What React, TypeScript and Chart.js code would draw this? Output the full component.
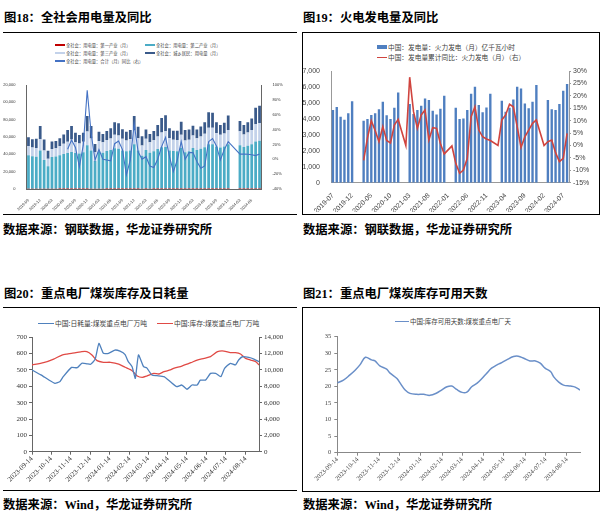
import React, { useEffect, useRef } from "react";
import { Chart, registerables } from "chart.js";
Chart.register(...registerables);

const SERIF_CJK = '"Liberation Serif", "Noto Sans CJK SC", serif';
const SANS_CJK = '"Noto Sans CJK SC", sans-serif';

// ---------------- 图18 全社会用电量及同比 ----------------
const months18 = [
  "2019-09","2019-10","2019-11","2019-12","2020-01","2020-02","2020-03","2020-04","2020-05","2020-06",
  "2020-07","2020-08","2020-09","2020-10","2020-11","2020-12","2021-01","2021-02","2021-03","2021-04",
  "2021-05","2021-06","2021-07","2021-08","2021-09","2021-10","2021-11","2021-12","2022-01","2022-02",
  "2022-03","2022-04","2022-05","2022-06","2022-07","2022-08","2022-09","2022-10","2022-11","2022-12",
  "2023-01","2023-02","2023-03","2023-04","2023-05","2023-06","2023-07","2023-08","2023-09","2023-10",
  "2023-11","2023-12","2024-01","2024-02","2024-03","2024-04","2024-05","2024-06","2024-07","2024-08",
];
const primary18 = [
  400,350,350,400,350,300,350,400,450,500,
  550,550,500,450,450,450,400,350,400,400,
  450,500,550,550,500,450,450,500,450,400,
  450,400,450,550,600,600,500,450,450,500,
  450,450,450,450,500,550,650,650,550,500,
  500,550,null,null,500,450,500,550,700,700,
];
const secondary18 = [
  38500,37500,37000,44000,33000,26000,36500,37000,38500,40000,
  41000,42000,41000,40500,42000,50000,44000,32000,42500,41500,
  43500,44500,46500,46000,44000,43000,44000,51000,44000,38000,
  44500,41500,43000,45500,47500,48000,44000,43500,43000,47000,
  42000,43000,47000,44500,46000,47500,51000,51000,48500,47500,
  48500,51000,null,null,50000,48000,49500,51000,54000,55000,
];
const tertiary18 = [
  10600,10000,10000,13000,11000,8500,9200,9500,10400,11800,
  13000,14500,12500,11500,12000,16000,14000,10000,12500,12000,
  12500,13300,15500,15200,13500,12500,13000,16000,14000,11800,
  13000,12000,12800,14500,17000,18000,14000,13000,13000,15000,
  13500,13500,14300,13500,14200,15800,19000,19000,15500,14500,
  15000,16500,null,null,16000,14500,15300,16500,20000,20500,
];
const resident18 = [
  10100,9500,10700,15300,12900,9400,8900,8500,9100,10700,
  13400,15700,11000,9800,10500,17700,14300,9600,10600,9600,
  10500,11700,14400,14000,10800,10000,10500,16700,13500,10800,
  10800,9600,10700,13400,16900,18400,11500,10300,10800,15200,
  12000,11800,11200,10300,11300,13200,17800,17300,12400,11300,
  12500,16900,null,null,12000,10800,11700,13400,19100,19800,
];
const yoy18 = [
  null,null,null,null,null,null,null,null,null,null,
  13.4,26,16,-10,19,93,35,-1,13,0,
  -1,-2,21,24.6,13,-21,-1,48,10,0,
  3.5,-9,-11,0,17,29.5,3.5,-16.7,-1,23.7,
  0,9,9,-3,-12,-9,23.7,28,18,-1,
  13,23.7,null,null,7,7,6.7,6,5,7,
];

// ---------------- 图19 火电发电量及同比 ----------------
const months19 = [
  "2019-07","2019-08","2019-09","2019-10","2019-11","2019-12","2020-01","2020-02","2020-03","2020-04",
  "2020-05","2020-06","2020-07","2020-08","2020-09","2020-10","2020-11","2020-12","2021-01","2021-02",
  "2021-03","2021-04","2021-05","2021-06","2021-07","2021-08","2021-09","2021-10","2021-11","2021-12",
  "2022-01","2022-02","2022-03","2022-04","2022-05","2022-06","2022-07","2022-08","2022-09","2022-10",
  "2022-11","2022-12","2023-01","2023-02","2023-03","2023-04","2023-05","2023-06","2023-07","2023-08",
  "2023-09","2023-10","2023-11","2023-12","2024-01","2024-02","2024-03","2024-04","2024-05","2024-06",
  "2024-07","2024-08",
];
const thermal19 = [
  4550,4740,4140,3950,4350,5100,null,null,3890,3990,
  4240,4350,4600,5080,4220,3990,4700,5660,null,null,
  4930,4300,4550,4830,5270,5180,4510,4280,4640,5450,
  null,null,4700,3990,4030,4550,5580,6020,4870,4410,
  4720,5580,null,null,5140,4450,4700,5220,6020,5910,
  4970,4660,5080,6120,null,null,5180,4600,4550,4930,
  5770,6190,
];
const cumYoy19 = [
  null,null,null,null,null,null,null,null,-6,3,
  10,6,1.5,7.6,2,1,8.2,10.5,null,0,
  27.5,13.6,6.9,12.3,14.3,2.2,7.2,6.9,0.8,-3.4,
  null,-0.2,-7.2,-11.2,-9.9,-5.2,11.6,15.6,6.2,3.5,
  2.6,2,null,0,10.3,12.3,16.6,15.6,7.6,-0.8,
  3.5,6.2,8.9,10.3,null,0,1.5,2.2,-2.9,-6.5,
  -5.2,4.9,
];

// ---------------- 图20 重点电厂煤炭库存及日耗量 ----------------
const dailyDates20 = [
  "2023-09-14","2023-09-28","2023-10-10","2023-10-20","2023-10-28","2023-11-02","2023-11-15","2023-11-24",
  "2023-12-01","2023-12-09","2023-12-15","2023-12-22","2023-12-28","2024-01-04","2024-01-12","2024-01-22",
  "2024-01-30","2024-02-07","2024-02-12","2024-02-18","2024-02-23","2024-02-28","2024-03-07","2024-03-12",
  "2024-03-20","2024-03-28","2024-04-08","2024-04-18","2024-04-28","2024-05-06","2024-05-14","2024-05-22",
  "2024-05-30","2024-06-04","2024-06-12","2024-06-20","2024-06-28","2024-07-06","2024-07-12","2024-07-21",
  "2024-07-29","2024-08-03","2024-08-09","2024-08-19","2024-08-27","2024-09-04",
];
const dailyUse20 = [
  500,470,440,418,430,459,516,514,
  541,538,535,565,663,602,602,622,
  615,594,551,520,449,592,520,513,
  469,465,459,428,398,408,382,408,
  408,438,438,479,479,459,510,541,
  531,561,581,577,567,551,
];
const stockDates20 = [
  "2023-09-14","2023-10-02","2023-10-18","2023-10-31","2023-11-08","2023-11-15","2023-12-01","2023-12-09",
  "2023-12-17","2023-12-25","2024-01-04","2024-01-15","2024-01-28","2024-02-07","2024-02-18","2024-02-26",
  "2024-03-05","2024-03-12","2024-03-23","2024-03-31","2024-04-08","2024-04-18","2024-04-23","2024-05-06",
  "2024-05-20","2024-05-30","2024-06-10","2024-06-20","2024-07-01","2024-07-11","2024-07-21","2024-07-29",
  "2024-08-06","2024-08-14","2024-08-22","2024-08-30","2024-09-04",
];
const stock20 = [
  10610,10890,11340,11830,11950,12030,12240,12240,
  11830,11140,10940,10940,10730,10330,9910,9265,
  9100,9260,9590,9510,9800,10000,10200,10480,
  10890,11220,11420,11630,12240,12320,12120,12120,
  11950,11420,11220,11010,10610,
];
const tickDates = [
  "2023-09-14","2023-10-14","2023-11-14","2023-12-14","2024-01-14","2024-02-14",
  "2024-03-14","2024-04-14","2024-05-14","2024-06-14","2024-07-14","2024-08-14",
];

// ---------------- 图21 重点电厂煤炭库存可用天数 ----------------
const daysDates21 = [
  "2023-09-14","2023-09-23","2023-10-02","2023-10-10","2023-10-17","2023-10-25","2023-11-03","2023-11-08",
  "2023-11-15","2023-11-25","2023-11-30","2023-12-10","2023-12-15","2023-12-22","2023-12-29","2024-01-08",
  "2024-01-18","2024-01-27","2024-02-06","2024-02-13","2024-02-21","2024-02-28","2024-03-06","2024-03-14",
  "2024-03-21","2024-03-28","2024-04-05","2024-04-12","2024-04-19","2024-04-26","2024-05-04","2024-05-09",
  "2024-05-18","2024-05-28","2024-06-04","2024-06-12","2024-06-21","2024-06-29","2024-07-06","2024-07-13",
  "2024-07-21","2024-07-26","2024-08-02","2024-08-09","2024-08-19","2024-08-26","2024-09-02",
];
const usableDays21 = [
  21.1,21.9,23.4,24.9,26.5,28.8,28.0,27.7,
  26.2,25.2,24.0,22.4,20.9,18.9,17.9,17.6,
  17.6,17.3,18.0,18.9,19.9,20.1,19.1,18.2,
  18.3,19.9,21.0,22.4,24.0,25.5,26.5,27.0,
  28.0,29.0,29.1,28.5,27.7,27.7,27.0,25.5,
  24.5,22.8,21.3,20.4,20.1,19.8,18.9,
];

// ---------------- helpers ----------------
const BASE = Date.UTC(2023, 8, 14);
const toDay = (s: string) => {
  const [y, m, d] = s.split("-").map(Number);
  return (Date.UTC(y, m - 1, d) - BASE) / 86400000;
};
const fixW = (w: number) => (s: any) => { s.width = w; };
const fixH = (h: number) => (s: any) => { s.height = h; };

function ChartBox({ box, config }: { box: [number, number, number, number]; config: any }) {
  const ref = useRef<HTMLCanvasElement>(null);
  useEffect(() => {
    const c = new Chart(ref.current as HTMLCanvasElement, config);
    return () => c.destroy();
  }, []);
  return (
    <div style={{ position: "absolute", left: box[0], top: box[1], width: box[2], height: box[3] }}>
      <canvas ref={ref} />
    </div>
  );
}

const tinyTick = (size: number, family: string, color = "#333") => ({
  font: { size, family },
  color,
});

// ---------------- chart configs ----------------
const config18 = {
  type: "bar",
  data: {
    labels: months18,
    datasets: [
      { label: "全社会：用电量：第一产业（月）", data: primary18, backgroundColor: "#c00000", stack: "s", order: 1, barPercentage: 0.7, categoryPercentage: 1 },
      { label: "全社会：用电量：第二产业（月）", data: secondary18, backgroundColor: "#4bacc6", stack: "s", order: 1, barPercentage: 0.7, categoryPercentage: 1 },
      { label: "全社会：用电量：第三产业（月）", data: tertiary18, backgroundColor: "#c3d2ea", stack: "s", order: 1, barPercentage: 0.7, categoryPercentage: 1 },
      { label: "全社会：城乡居民：用电量（月）", data: resident18, backgroundColor: "#3a5a8a", stack: "s", order: 1, barPercentage: 0.7, categoryPercentage: 1 },
      { type: "line", label: "全社会：用电量：合计（月）同比（右）", data: yoy18, yAxisID: "y1", borderColor: "#4472c4", borderWidth: 1.1, pointRadius: 0, spanGaps: true, order: 0, tension: 0 },
    ],
  },
  options: {
    animation: false, responsive: true, maintainAspectRatio: false,
    layout: { padding: { top: 19, left: 0, right: 0, bottom: 0 } },
    plugins: { legend: { display: false }, tooltip: { enabled: false } },
    scales: {
      x: {
        stacked: true, afterFit: fixH(23),
        grid: { display: false }, border: { color: "#666" },
        ticks: { ...tinyTick(4, "Liberation Sans"), autoSkip: false, maxRotation: 45, minRotation: 45, padding: 1,
          callback: function (this: any, v: any, i: number) { return i % 3 === 0 ? months18[i] : ""; } },
      },
      y: {
        stacked: true, min: 0, max: 120000, afterFit: fixW(23.5),
        grid: { display: false }, border: { color: "#666" },
        ticks: { ...tinyTick(4, "Liberation Sans"), stepSize: 20000, padding: 3 },
      },
      y1: {
        position: "right", min: -40, max: 100, afterFit: fixW(35.5),
        grid: { display: false }, border: { color: "#666" },
        ticks: { ...tinyTick(4, "Liberation Sans"), stepSize: 20, padding: 3, callback: (v: any) => v + "%" },
      },
    },
  },
};

const config19 = {
  type: "bar",
  data: {
    labels: months19,
    datasets: [
      { label: "中国：发电量：火力发电（月）亿千瓦小时", data: thermal19, backgroundColor: "#4f7fc0", order: 1, barPercentage: 0.62, categoryPercentage: 1 },
      { type: "line", label: "中国：发电量累计同比：火力发电（月）（右）", data: cumYoy19, yAxisID: "y1", borderColor: "#d0443e", borderWidth: 1.6, pointRadius: 0, spanGaps: true, order: 0 },
    ],
  },
  options: {
    animation: false, responsive: true, maintainAspectRatio: false,
    layout: { padding: { top: 9, left: 0, right: 0, bottom: 0 } },
    plugins: { legend: { display: false }, tooltip: { enabled: false } },
    scales: {
      x: {
        afterFit: fixH(29.3),
        grid: { display: false }, border: { color: "#999" },
        ticks: { ...tinyTick(6.8, "Liberation Sans", "#444"), autoSkip: false, maxRotation: 45, minRotation: 45, padding: 1,
          callback: function (this: any, v: any, i: number) { return i % 5 === 0 && i < 61 ? months19[i] : ""; } },
      },
      y: {
        min: 0, max: 7000, afterFit: fixW(28),
        grid: { display: false }, border: { color: "#999" },
        ticks: { ...tinyTick(7, "Liberation Sans", "#444"), stepSize: 1000, padding: 3 },
      },
      y1: {
        position: "right", min: -15, max: 30, afterFit: fixW(29),
        grid: { display: true, drawOnChartArea: false, drawTicks: true, tickLength: 2, color: "#999" }, border: { color: "#999" },
        ticks: { ...tinyTick(7, "Liberation Sans", "#444"), stepSize: 5, padding: 2, callback: (v: any) => v + "%" },
      },
    },
  },
};

const tickDays = tickDates.map(toDay);

const config20 = {
  type: "line",
  data: {
    datasets: [
      { label: "中国:日耗量:煤炭重点电厂万吨", data: dailyDates20.map((d, i) => ({ x: toDay(d), y: dailyUse20[i] })), yAxisID: "y", borderColor: "#4f81bd", borderWidth: 1.3, pointRadius: 0, tension: 0.15 },
      { label: "中国:库存:煤炭重点电厂万吨", data: stockDates20.map((d, i) => ({ x: toDay(d), y: stock20[i] })), yAxisID: "y1", borderColor: "#e04a45", borderWidth: 1.3, pointRadius: 0, tension: 0.2 },
    ],
  },
  options: {
    animation: false, responsive: true, maintainAspectRatio: false,
    layout: { padding: { top: 9.3, left: 0, right: 0, bottom: 0 } },
    plugins: { legend: { display: false }, tooltip: { enabled: false } },
    scales: {
      x: {
        type: "linear", min: 0, max: toDay(stockDates20[stockDates20.length - 1]), afterFit: fixH(36.3),
        afterBuildTicks: (axis: any) => { axis.ticks = tickDays.map((v) => ({ value: v })); },
        grid: { display: true, drawOnChartArea: false, drawTicks: true, tickLength: 3, color: "#666" }, border: { color: "#666" },
        ticks: { ...tinyTick(7, "Liberation Serif"), autoSkip: false, maxRotation: 45, minRotation: 45, padding: 0,
          callback: (v: any, i: number) => tickDates[i] },
      },
      y: {
        min: 0, max: 700, afterFit: fixW(29),
        grid: { display: true, drawOnChartArea: false, drawTicks: true, tickLength: 3, color: "#666" }, border: { color: "#666" },
        ticks: { ...tinyTick(7, "Liberation Serif"), stepSize: 100, padding: 2 },
      },
      y1: {
        position: "right", min: 0, max: 14000, afterFit: fixW(38),
        grid: { display: true, drawOnChartArea: false, drawTicks: true, tickLength: 3, color: "#666" }, border: { color: "#666" },
        ticks: { ...tinyTick(7, "Liberation Serif"), stepSize: 2000, padding: 2, callback: (v: any) => Number(v).toLocaleString("en-US") },
      },
    },
  },
};

const config21 = {
  type: "line",
  data: {
    datasets: [
      { label: "中国:库存可用天数:煤炭重点电厂天", data: daysDates21.map((d, i) => ({ x: toDay(d), y: usableDays21[i] })), borderColor: "#6a8fc8", borderWidth: 1.5, pointRadius: 0, tension: 0.35 },
    ],
  },
  options: {
    animation: false, responsive: true, maintainAspectRatio: false,
    layout: { padding: { top: 8.7, left: 0, right: 18, bottom: 0 } },
    plugins: { legend: { display: false }, tooltip: { enabled: false } },
    scales: {
      x: {
        type: "linear", min: 0, max: toDay(daysDates21[daysDates21.length - 1]), afterFit: fixH(35.3),
        afterBuildTicks: (axis: any) => { axis.ticks = tickDays.map((v) => ({ value: v })); },
        grid: { display: true, drawOnChartArea: false, drawTicks: true, tickLength: 3, color: "#888" }, border: { color: "#888" },
        ticks: { ...tinyTick(6.5, "Liberation Serif", "#444"), autoSkip: false, maxRotation: 45, minRotation: 45, padding: 0,
          callback: (v: any, i: number) => tickDates[i] },
      },
      y: {
        min: 0, max: 35, afterFit: fixW(34.3),
        grid: { display: true, drawOnChartArea: false, drawTicks: true, tickLength: 3, color: "#888" }, border: { color: "#888" },
        ticks: { ...tinyTick(6.5, "Liberation Serif", "#444"), stepSize: 5, padding: 3 },
      },
    },
  },
};

// ---------------- layout pieces ----------------
const abs = (l: number, t: number, extra: any = {}) => ({ position: "absolute" as const, left: l, top: t, ...extra });

function Title({ x, y, text }: { x: number; y: number; text: string }) {
  return (
    <div style={abs(x, y, { font: `bold 12.3px ${SERIF_CJK}`, lineHeight: "14px", whiteSpace: "nowrap", color: "#000" })}>{text}</div>
  );
}
function Rule({ x, y, w, h = 1.5 }: { x: number; y: number; w: number; h?: number }) {
  return <div style={abs(x, y, { width: w, height: h, background: "#000" })} />;
}
function LegendItem({ x, y, color, text, size, kind, markW = 10, family = SANS_CJK }: any) {
  return (
    <div style={abs(x, y - size * 0.7, { display: "flex", alignItems: "center", whiteSpace: "nowrap", height: size * 1.4 })}>
      <span style={{ display: "inline-block", width: markW, height: kind === "rect" ? Math.max(2.5, size * 0.6) : 1.4, background: color, marginRight: 1 }} />
      <span style={{ font: `${size}px ${family}`, color: "#404040", lineHeight: `${size * 1.4}px` }}>{text}</span>
    </div>
  );
}

export default function App() {
  return (
    <div style={abs(0, 0, { width: 600, height: 530, background: "#fff", overflow: "hidden" })}>
      {/* 图18 */}
      <Title x={4} y={11} text="图18：全社会用电量及同比" />
      <Rule x={3} y={31.5} w={294} />
      <LegendItem x={55} y={45} color="#c00000" kind="rect" size={4.3} text="全社会：用电量：第一产业（月）" />
      <LegendItem x={145} y={45} color="#4bacc6" kind="rect" size={4.3} text="全社会：用电量：第二产业（月）" />
      <LegendItem x={55} y={53} color="#c3d2ea" kind="rect" size={4.3} text="全社会：用电量：第三产业（月）" />
      <LegendItem x={145} y={53} color="#3a5a8a" kind="rect" size={4.3} text="全社会：城乡居民：用电量（月）" />
      <LegendItem x={55} y={61} color="#4472c4" kind="line" size={4.3} text="全社会：用电量：合计（月）同比（右）" />
      <ChartBox box={[3, 66, 294, 146]} config={config18} />
      <Rule x={3} y={214} w={294} h={1.3} />
      <Title x={3} y={223} text="数据来源：钢联数据，华龙证券研究所" />

      {/* 图19 */}
      <Title x={303} y={11} text="图19：火电发电量及同比" />
      <div style={abs(302, 31.5, { width: 296, height: 181, borderTop: "1.5px solid #000", borderBottom: "1.3px solid #000", borderLeft: "1px solid #000", borderRight: "1px solid #000" })} />
      <LegendItem x={377} y={47.3} color="#4f7fc0" kind="rect" size={6.7} text="中国：发电量：火力发电（月）亿千瓦小时" />
      <LegendItem x={377} y={57.3} color="#d0443e" kind="line" size={6.7} text="中国：发电量累计同比：火力发电（月）（右）" />
      <ChartBox box={[303, 62, 295, 150]} config={config19} />
      <Title x={303} y={223} text="数据来源：钢联数据，华龙证券研究所" />

      {/* 图20 */}
      <Title x={4} y={287} text="图20：重点电厂煤炭库存及日耗量" />
      <Rule x={3} y={306.5} w={294} />
      <LegendItem x={38} y={323.3} color="#4f81bd" kind="line" size={6.8} markW={16} text="中国:日耗量:煤炭重点电厂万吨" />
      <LegendItem x={157} y={323.3} color="#e04a45" kind="line" size={6.8} markW={16} text="中国:库存:煤炭重点电厂万吨" />
      <ChartBox box={[3, 328, 294, 160]} config={config20} />
      <Rule x={3} y={490} w={294} h={1.3} />
      <Title x={3} y={498} text="数据来源：Wind，华龙证券研究所" />

      {/* 图21 */}
      <Title x={303} y={287} text="图21：重点电厂煤炭库存可用天数" />
      <div style={abs(302, 306.5, { width: 296, height: 183, borderTop: "1.5px solid #000", borderBottom: "1.3px solid #000", borderLeft: "1px solid #000", borderRight: "1px solid #000" })} />
      <LegendItem x={395} y={321.7} color="#6a8fc8" kind="line" size={6.5} markW={14} text="中国:库存可用天数:煤炭重点电厂天" />
      <ChartBox box={[303, 328, 295, 160]} config={config21} />
      <Title x={303} y={498} text="数据来源：Wind，华龙证券研究所" />
    </div>
  );
}
